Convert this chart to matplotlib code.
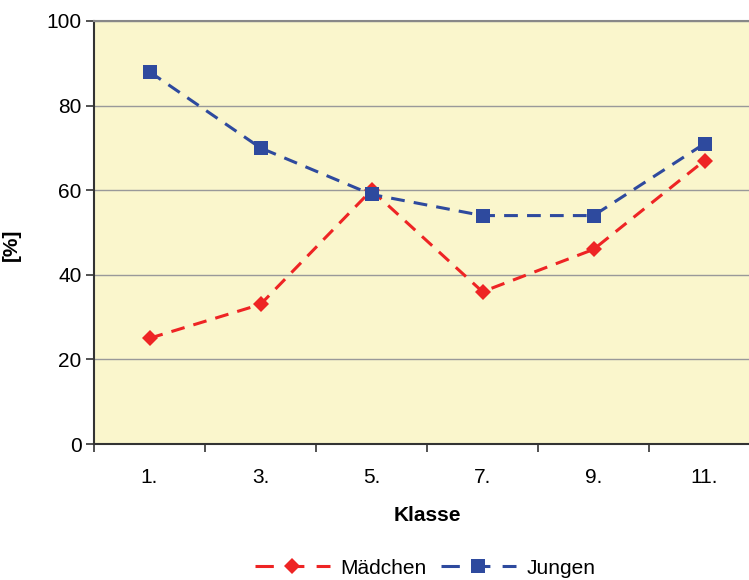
import matplotlib
matplotlib.use("Agg")
import matplotlib.pyplot as plt
from matplotlib.ticker import FixedLocator, NullFormatter

plt.rcParams['font.family'] = ['Liberation Sans', 'DejaVu Sans']

klassen = ["1.", "3.", "5.", "7.", "9.", "11."]
maedchen = [25, 33, 60, 36, 46, 67]
jungen = [88, 70, 59, 54, 54, 71]
y_ticks = [0, 20, 40, 60, 80, 100]

red = "#EE2424"
blue = "#2E4A9E"
bg = "#FAF6CC"
fs = 15

fig = plt.figure(figsize=(7.49, 5.8), dpi=100)
ax = fig.add_axes([94 / 749, 1 - 444 / 580, 666 / 749, 423 / 580])
ax.set_facecolor(bg)

x = list(range(len(klassen)))
ax.plot(x, maedchen, color=red, lw=2.2, dashes=(4.5, 3), marker="D",
        markersize=8.5, markeredgewidth=0, label="Mädchen", zorder=3)
ax.plot(x, jungen, color=blue, lw=2.2, dashes=(4.5, 3), marker="s",
        markersize=10, markeredgewidth=0, label="Jungen", zorder=4)

ax.set_xlim(-0.5, len(klassen) - 0.5)
ax.set_ylim(0, 100)
ax.set_yticks(y_ticks)
ax.set_xticks(x)
ax.set_xticklabels(klassen)
ax.xaxis.set_minor_locator(FixedLocator([i - 0.5 for i in range(len(klassen) + 1)]))
ax.xaxis.set_minor_formatter(NullFormatter())
ax.tick_params(axis="x", which="major", length=0, pad=17, labelsize=fs)
ax.tick_params(axis="x", which="minor", length=6, width=1.2, color="#333333")
ax.tick_params(axis="y", length=6, width=1.2, color="#333333", labelsize=fs, pad=3)

ax.grid(axis="y", color="#999999", lw=1)
ax.set_axisbelow(True)
for s in ("left", "bottom"):
    ax.spines[s].set_color("#333333")
    ax.spines[s].set_linewidth(1.5)
ax.spines["top"].set_color("#888888")
ax.spines["top"].set_linewidth(1.5)
ax.spines["right"].set_visible(False)

ax.set_xlabel("Klasse", fontsize=fs, fontweight="bold", labelpad=14)
ax.set_ylabel("[%]", fontsize=fs, fontweight="bold")
ax.yaxis.set_label_coords((21 - 94) / 666, 0.47)

leg = fig.legend(loc="center", bbox_to_anchor=(425 / 749, 1 - 568 / 580), ncol=2,
                 frameon=False, fontsize=fs, handlelength=3.6, columnspacing=0.7,
                 handletextpad=0.5)
for line in leg.get_lines():
    line.set_dashes((6, 4))

fig.savefig("out.png", dpi=100)
